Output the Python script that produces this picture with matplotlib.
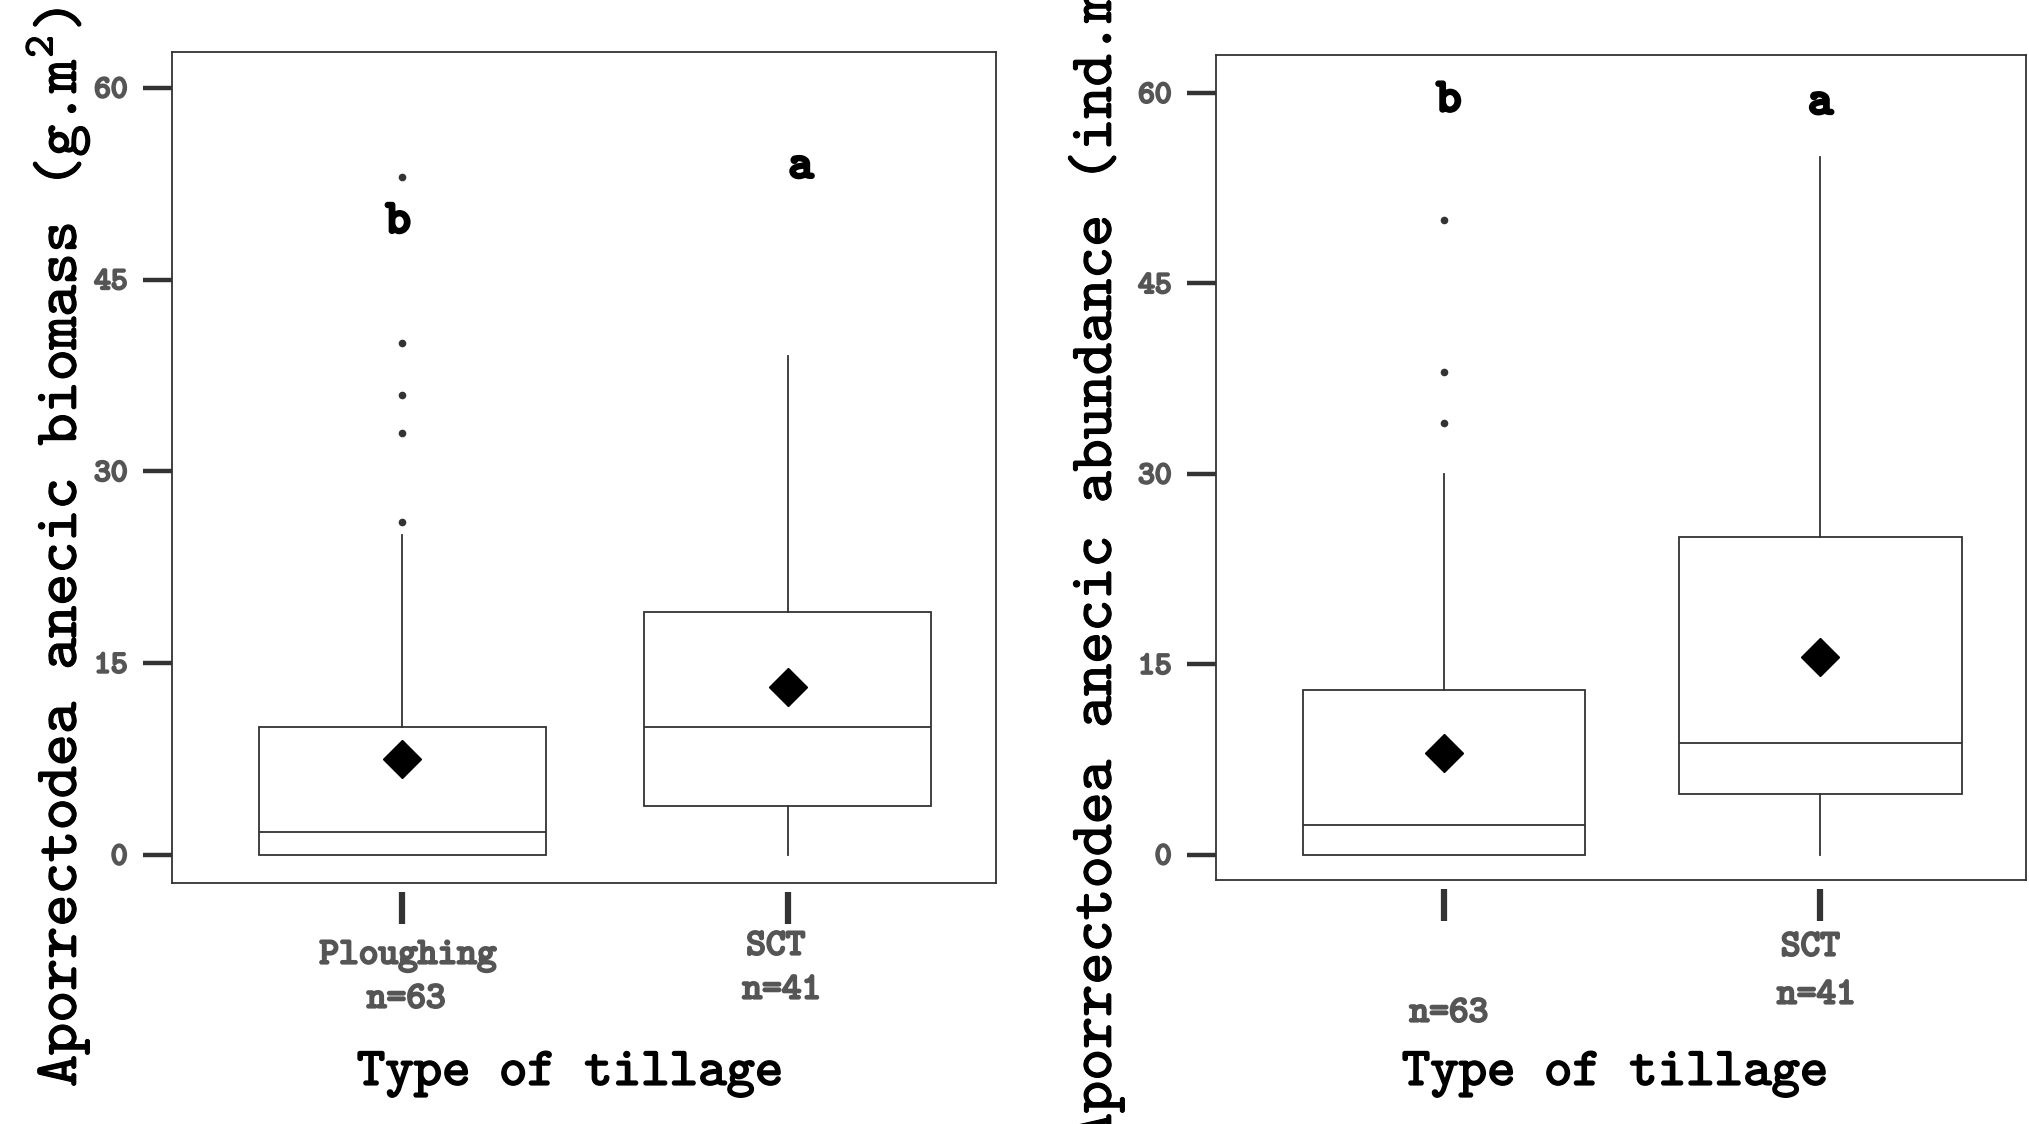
# Box plots of anecic earthworm biomass and abundance by tillage type

import matplotlib
matplotlib.use("Agg")
import matplotlib.pyplot as plt
import matplotlib.patheffects as pe

plt.rcParams['font.family'] = ['Liberation Mono', 'DejaVu Sans']
plt.rcParams['mathtext.fontset'] = 'custom'
plt.rcParams['mathtext.rm'] = 'cmtt10'
plt.rcParams['mathtext.it'] = 'cmtt10'

# Data
tillage = ["Ploughing", "SCT"]
n_obs = [63, 41]

# Biomass (g.m2)
bio_q1 = [0, 3.8]
bio_med = [1.8, 10]
bio_q3 = [10, 19]
bio_lo = [0, 0]
bio_hi = [25, 39]
bio_mean = [7.5, 13.1]
bio_fliers = [[26, 33, 36, 40, 53], []]
bio_letters = ["b", "a"]
bio_letter_y = [49.4, 53.7]

# Abundance (ind.m2)
abu_q1 = [0, 4.8]
abu_med = [2.3, 8.8]
abu_q3 = [13, 25]
abu_lo = [0, 0]
abu_hi = [30, 55]
abu_mean = [8, 15.6]
abu_fliers = [[34, 38, 50], []]
abu_letters = ["b", "a"]
abu_letter_y = [59.3, 59.1]

W, H = 2029, 1124
EDGE = "#333333"
TICKTXT = "#555555"
SERIF_MONO = ["cmtt10", "DejaVu Sans Mono"]


def fy(px):
    """ pixel row from the top -> figure fraction """
    return 1 - px / H


def bold(color, w=1.2):
    return [pe.withStroke(linewidth=w, foreground=color)]


def draw_panel(ax, q1, med, q3, lo, hi, mean, fliers, ylim, xlim, width):
    stats = []
    for i in range(len(tillage)):
        stats.append(dict(label=tillage[i], q1=q1[i], med=med[i], q3=q3[i],
                          whislo=lo[i], whishi=hi[i], mean=mean[i], fliers=fliers[i]))

    ax.bxp(stats, positions=[1, 2], widths=width, showmeans=True, showcaps=False,
           patch_artist=True,
           boxprops=dict(facecolor="white", edgecolor=EDGE, linewidth=1.3),
           medianprops=dict(color=EDGE, linewidth=1.3),
           whiskerprops=dict(color=EDGE, linewidth=1.3),
           meanprops=dict(marker="D", markerfacecolor="black", markeredgecolor="black",
                          markersize=19),
           flierprops=dict(marker="o", markersize=5.5, markerfacecolor=EDGE,
                           markeredgecolor="none"))

    ax.set_ylim(*ylim)
    ax.set_xlim(*xlim)
    ax.set_yticks([0, 15, 30, 45, 60])
    ax.set_xticks([1, 2])
    ax.set_xticklabels(["", ""])

    for s in ["left", "top", "right"]:
        ax.spines[s].set_color(EDGE)
        ax.spines[s].set_linewidth(1.3)
    # x ticks sit a little below the frame
    ax.spines["bottom"].set_position(("outward", 6.5))
    ax.spines["bottom"].set_color("none")
    ax.plot([0, 1], [0, 0], transform=ax.transAxes, color=EDGE, lw=1.3, clip_on=False)

    ax.tick_params(axis="y", length=21, width=3.2, color=EDGE, labelsize=23,
                   labelcolor=TICKTXT, pad=11)
    ax.tick_params(axis="x", length=23, width=4.5, color=EDGE)
    for lbl in ax.get_yticklabels():
        lbl.set_family(SERIF_MONO)
        lbl.set_path_effects(bold(TICKTXT, 1.6))


def cat_label(ax, text, pos, ypx, dx, size=27):
    ax.annotate(text, xy=(pos, fy(ypx)), xycoords=("data", "figure fraction"),
                xytext=(dx, 0), textcoords="offset pixels", ha="center", va="center",
                fontsize=size, family=SERIF_MONO, color=TICKTXT,
                path_effects=bold(TICKTXT, 1.6), annotation_clip=False)


fig = plt.figure(figsize=(W / 100, H / 100), dpi=100)

# Biomass
ax1 = fig.add_axes([172 / W, fy(883), 824 / W, 831 / H])
draw_panel(ax1, bio_q1, bio_med, bio_q3, bio_lo, bio_hi, bio_mean, bio_fliers,
           (-2.2, 62.8), (0.403, 2.54), 0.745)
for i, let in enumerate(bio_letters):
    ax1.annotate(let, xy=(i + 1, bio_letter_y[i]), xytext=([-4, 13][i], 0),
                 textcoords="offset pixels", ha="center", va="center",
                 fontsize=34, family=SERIF_MONO, path_effects=bold("black", 2.4))
cat_label(ax1, tillage[0], 1, 956, 6)
cat_label(ax1, f"n={n_obs[0]}", 1, 1000, 4)
cat_label(ax1, tillage[1], 2, 947, -12)
cat_label(ax1, f"n={n_obs[1]}", 2, 991, -6)

# Abundance
ax2 = fig.add_axes([1216 / W, fy(880), 810 / W, 825 / H])
draw_panel(ax2, abu_q1, abu_med, abu_q3, abu_lo, abu_hi, abu_mean, abu_fliers,
           (-2.0, 63.0), (0.395, 2.546), 0.75)
for i, let in enumerate(abu_letters):
    ax2.annotate(let, xy=(i + 1, abu_letter_y[i]), xytext=([5, 0][i], 0),
                 textcoords="offset pixels", ha="center", va="center",
                 fontsize=34, family=SERIF_MONO, path_effects=bold("black", 2.4))
cat_label(ax2, f"n={n_obs[0]}", 1, 1014, 5)
cat_label(ax2, tillage[1], 2, 948, -10)
cat_label(ax2, f"n={n_obs[1]}", 2, 996, -4)

# Axis titles
fig.text(58 / W, fy(1087), r"Aporrectodea anecic biomass (g.m$^{2}$)", rotation=90,
         ha="center", va="bottom", fontsize=44, family=SERIF_MONO,
         path_effects=bold("black", 0.8))
fig.text(1093 / W, fy(1145), r"Aporrectodea anecic abundance (ind.m$^{2}$)", rotation=90,
         ha="center", va="bottom", fontsize=44, family=SERIF_MONO,
         path_effects=bold("black", 0.8))
fig.text(570 / W, fy(1074), "Type of tillage", ha="center", va="center",
         fontsize=39, family=SERIF_MONO, path_effects=bold("black", 1.2))
fig.text(1615 / W, fy(1074), "Type of tillage", ha="center", va="center",
         fontsize=39, family=SERIF_MONO, path_effects=bold("black", 1.2))

plt.savefig("out.png", dpi=100)
